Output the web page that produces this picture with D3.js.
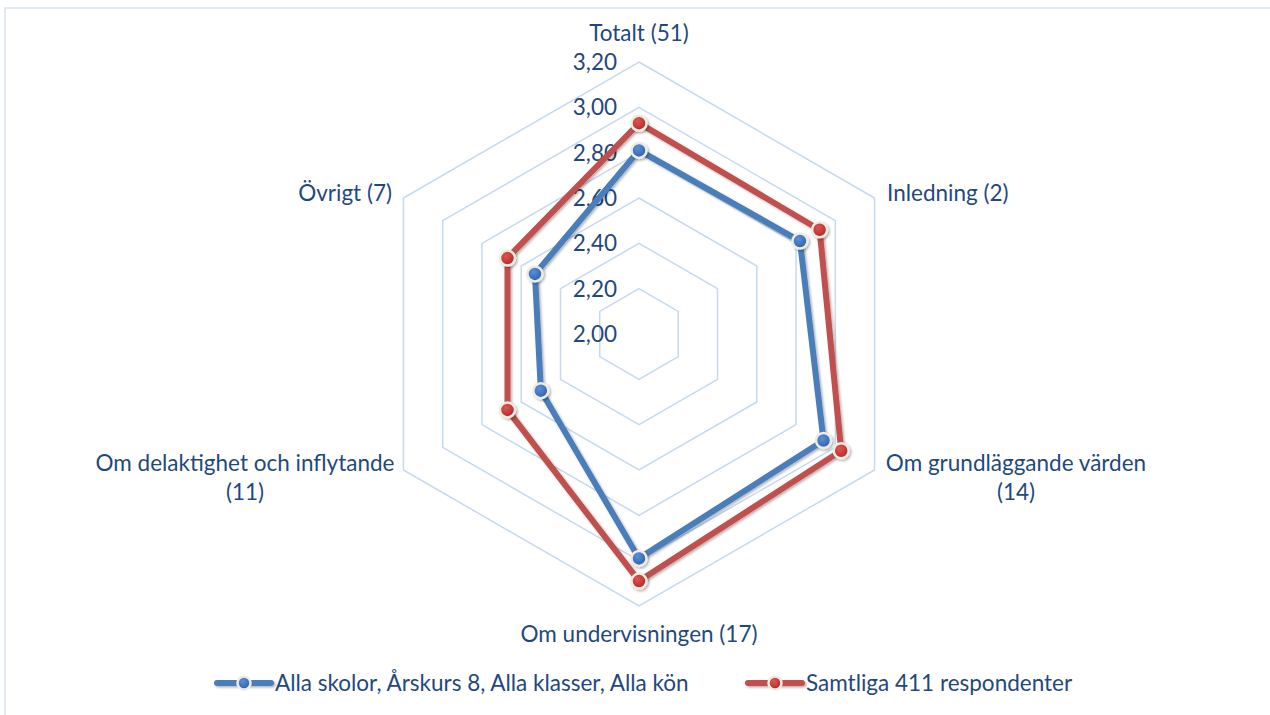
<!DOCTYPE html>
<html><head><meta charset="utf-8">
<script src="https://cdn.jsdelivr.net/npm/d3@7/dist/d3.min.js"></script>
<style>body{margin:0;background:#fff}svg{display:block}</style>
</head><body><svg id="c" width="1270" height="715"></svg>
<script>
const categories = ["Totalt (51)","Inledning (2)","Om grundläggande värden (14)","Om undervisningen (17)","Om delaktighet och inflytande (11)","Övrigt (7)"];
const seriesNames = ["Alla skolor, Årskurs 8, Alla klasser, Alla kön","Samtliga 411 respondenter"];
const seriesBlue = [2.81, 2.82, 2.94, 2.99, 2.50, 2.53];
const seriesRed  = [2.93, 2.92, 3.03, 3.09, 2.67, 2.67];
const tickValues = [2.00, 2.20, 2.40, 2.60, 2.80, 3.00, 3.20];
const tickLabels = ["2,00","2,20","2,40","2,60","2,80","3,00","3,20"];

const svg = d3.select("#c");
const font = "Lato, 'Open Sans', sans-serif";
const fs = 22.5;
const textColor = "#1f497d";
const cx = 639, cy = 334;
const r = d3.scaleLinear().domain([2.0, 3.2]).range([0, 272]);
const ang = d3.scaleLinear().domain([0, categories.length]).range([0, 2*Math.PI]);
const pt = (i, v) => [cx + r(v)*Math.sin(ang(i)), cy - r(v)*Math.cos(ang(i))];

const defs = svg.append("defs");
const f = defs.append("filter").attr("id","sh").attr("filterUnits","userSpaceOnUse")
  .attr("x",0).attr("y",0).attr("width",1270).attr("height",715);
f.append("feDropShadow").attr("dx",1.5).attr("dy",1.5).attr("stdDeviation",1.2).attr("flood-color","#000").attr("flood-opacity",0.3);
function grad(id, light, dark){
  const g = defs.append("radialGradient").attr("id",id).attr("cx","40%").attr("cy","35%").attr("r","65%");
  g.append("stop").attr("offset","0%").attr("stop-color",light);
  g.append("stop").attr("offset","100%").attr("stop-color",dark);
}
grad("gb","#5b8fd6","#2f62ad");
grad("gr","#e05552","#b02a27");

svg.append("rect").attr("x",5).attr("y",8).attr("width",1280).attr("height",720)
  .attr("fill","none").attr("stroke","#d9e3f1").attr("stroke-width",1.5);

// grid
const idx = d3.range(categories.length);
tickValues.slice(1).forEach(v => {
  svg.append("polygon").attr("points", idx.map(i => pt(i, v).join(",")).join(" "))
    .attr("fill","none").attr("stroke","#c6d9f1").attr("stroke-width",1.5);
});

// tick labels
svg.selectAll(".tick").data(tickValues).join("text")
  .attr("x", cx - 22).attr("y", d => cy - r(d)).attr("dy","0.35em")
  .attr("text-anchor","end").attr("font-family",font).attr("font-size",fs)
  .attr("fill",textColor).text((d,i) => tickLabels[i]);

// category labels
const catPos = [
  {x:639, y:33, anchor:"middle", lines:["Totalt (51)"]},
  {x:887, y:193, anchor:"start", lines:["Inledning (2)"]},
  {x:1016, y:463, anchor:"middle", lines:["Om grundläggande värden","(14)"]},
  {x:639, y:634, anchor:"middle", lines:["Om undervisningen (17)"]},
  {x:245, y:463, anchor:"middle", lines:["Om delaktighet och inflytande","(11)"]},
  {x:392, y:193, anchor:"end", lines:["Övrigt (7)"]}
];
catPos.forEach(p => {
  const t = svg.append("text").attr("font-family",font).attr("font-size",fs)
    .attr("fill",textColor).attr("text-anchor",p.anchor);
  p.lines.forEach((l,k) => t.append("tspan").attr("x",p.x).attr("y",p.y + k*29).attr("dy","0.35em").text(l));
});

const line = d3.line().curve(d3.curveLinearClosed);
function drawSeries(vals, color, gid){
  const pts = vals.map((v,i) => pt(i, v));
  svg.append("path").attr("d", line(pts)).attr("fill","none")
    .attr("stroke",color).attr("stroke-width",6).attr("stroke-linejoin","miter")
    .attr("filter","url(#sh)");
  svg.append("g").selectAll("circle").data(pts).join("circle")
    .attr("cx",d=>d[0]).attr("cy",d=>d[1]).attr("r",7.5)
    .attr("fill",`url(#${gid})`).attr("stroke","#eeece1").attr("stroke-width",2.5)
    .attr("filter","url(#sh)");
}
drawSeries(seriesBlue, "#4a7ebb", "gb");
drawSeries(seriesRed, "#c0504d", "gr");

// legend
const legend = [
  {x1:217, x2:271, color:"#4a7ebb", gid:"gb", tx:275, name:seriesNames[0]},
  {x1:748, x2:802, color:"#c0504d", gid:"gr", tx:806, name:seriesNames[1]}
];
legend.forEach(l => {
  const y = 683;
  svg.append("line").attr("x1",l.x1).attr("x2",l.x2).attr("y1",y).attr("y2",y)
    .attr("stroke",l.color).attr("stroke-width",6).attr("stroke-linecap","round").attr("filter","url(#sh)");
  svg.append("circle").attr("cx",(l.x1+l.x2)/2).attr("cy",y).attr("r",6.5)
    .attr("fill",`url(#${l.gid})`).attr("stroke","#eeece1").attr("stroke-width",2.5);
  svg.append("text").attr("x",l.tx).attr("y",y).attr("dy","0.35em")
    .attr("font-family",font).attr("font-size",fs).attr("fill",textColor).text(l.name);
});
</script></body></html>
